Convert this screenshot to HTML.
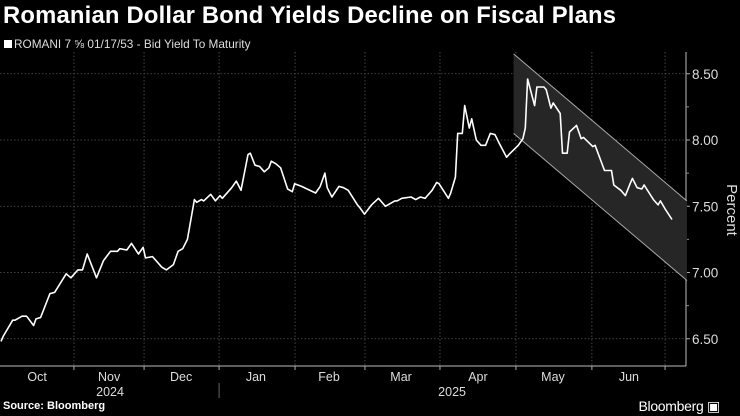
<!DOCTYPE html>
<html><head><meta charset="utf-8"><style>
html,body{margin:0;padding:0;background:#000;}
body{width:740px;height:416px;overflow:hidden;font-family:"Liberation Sans","DejaVu Sans",sans-serif;color:#fff;position:relative;}
#title{position:absolute;left:3px;top:2px;font-size:23.8px;font-weight:bold;letter-spacing:0.2px;white-space:nowrap;}
#legend{position:absolute;left:4px;top:37px;font-size:11.8px;color:#ddd;white-space:nowrap;}
#legend span.sw{display:inline-block;width:8px;height:8px;background:#fff;margin-right:2px;vertical-align:0px;}
#source{position:absolute;left:3px;top:400px;font-size:11px;font-weight:bold;}
#brand{position:absolute;right:20px;top:398px;font-size:14px;letter-spacing:-0.3px;}
svg{position:absolute;left:0;top:0;}
</style></head><body>
<div id="title">Romanian Dollar Bond Yields Decline on Fiscal Plans</div>
<div id="legend"><span class="sw"></span>ROMANI 7 ⅝ 01/17/53 - Bid Yield To Maturity</div>
<div id="source">Source: Bloomberg</div>
<div id="brand">Bloomberg ▣</div>
<svg id="chart" width="740" height="416"></svg>
<script>
const days=[0,1,5,6,9,11,14,15,17,21,23,28,30,33,35,37,41,44,47,50,51,54,56,59,61,62,65,69,71,74,76,78,80,83,84,86,87,90,92,94,95,99,101,103,106,107,109,111,113,115,116,118,120,123,125,126,129,135,137,139,140,142,145,147,149,153,154,156,159,162,165,169,170,172,176,178,180,182,183,185,187,188,192,193,195,196,198,199,201,202,204,206,208,210,212,214,217,218,222,224,225,226,229,230,233,234,236,237,240,241,243,244,247,249,250,254,255,259,262,263,266,268,270,271,273,275,276,280,282,283,285,288];
const yields=[6.48,6.52,6.64,6.64,6.67,6.67,6.60,6.65,6.66,6.84,6.85,6.99,6.96,7.02,7.02,7.14,6.96,7.09,7.16,7.16,7.18,7.17,7.22,7.14,7.19,7.11,7.12,7.04,7.02,7.06,7.16,7.18,7.25,7.55,7.53,7.55,7.54,7.59,7.54,7.58,7.56,7.64,7.69,7.62,7.89,7.90,7.81,7.80,7.76,7.79,7.84,7.82,7.79,7.63,7.61,7.67,7.65,7.60,7.65,7.75,7.64,7.57,7.65,7.64,7.62,7.51,7.49,7.44,7.51,7.56,7.50,7.54,7.54,7.56,7.57,7.55,7.57,7.56,7.58,7.62,7.68,7.67,7.56,7.60,7.72,8.05,8.05,8.26,8.09,8.16,8.00,7.96,7.96,8.05,8.04,7.97,7.87,7.89,7.96,8.01,8.09,8.46,8.26,8.40,8.40,8.38,8.24,8.28,8.20,7.90,7.90,8.06,8.11,8.01,8.02,7.95,7.96,7.77,7.77,7.66,7.62,7.58,7.67,7.71,7.64,7.63,7.66,7.55,7.51,7.54,7.48,7.40];
const channelDays=[220,294.4];
const channelTop=[8.65,7.54];
const channelBottom=[8.05,6.94];
const yTicks=[6.5,7.0,7.5,8.0,8.5];
const yTickLabels=["6.50","7.00","7.50","8.00","8.50"];
const minorTicks=[6.75,7.25,7.75,8.25];
const gridDays=[31.3,61.4,93.6,126.2,156.2,188.4,221,253.6,285];
const months=["Oct","Nov","Dec","Jan","Feb","Mar","Apr","May","Jun"];
const monthDays=[15.5,46.4,77.3,109.4,140.8,171.7,204.7,236.9,269.5];
const years=["2024","2025"];
const yearDays=[46.8,193.6];
const yearSepDays=[93.6];

const NS="http://www.w3.org/2000/svg";
const svg=document.getElementById('chart');
const X0=1,KX=2.33,AXR=686,AXB=366;
const x=d=>X0+d*KX;
const y=v=>140-(v-8)*132.5;
function mk(t,a){const e=document.createElementNS(NS,t);for(const k in a)e.setAttribute(k,a[k]);svg.appendChild(e);return e;}

yTicks.forEach((v,i)=>{
 const g=mk('line',{x1:0,x2:AXR,y1:y(v),y2:y(v),stroke:'#555','stroke-width':0.8,'stroke-dasharray':'1.5,2'});
 
 
 const t=mk('line',{x1:AXR,x2:AXR+4,y1:y(v),y2:y(v),stroke:'#aaa','stroke-width':1});
 
 
 const l=mk('text',{x:AXR+6,y:y(v)+5,fill:'#ddd','font-size':13.5});
 l.textContent=yTickLabels[i];
 
 
});
minorTicks.forEach(v=>{
 const t=mk('line',{x1:AXR,x2:AXR+3,y1:y(v),y2:y(v),stroke:'#888','stroke-width':1});
 
 
});
gridDays.forEach(d=>{
 const g=mk('line',{x1:x(d),x2:x(d),y1:52,y2:AXB,stroke:'#555','stroke-width':0.8,'stroke-dasharray':'1.5,2'});
 
 
 const t=mk('line',{x1:x(d),x2:x(d),y1:AXB,y2:AXB+4,stroke:'#aaa','stroke-width':1});
 
 
});
const ay=mk('line',{x1:AXR,x2:AXR,y1:52,y2:AXB,stroke:'#bbb','stroke-width':1});


const ax=mk('line',{x1:0,x2:AXR,y1:AXB,y2:AXB,stroke:'#bbb','stroke-width':1});


months.forEach((m,i)=>{
 const t=mk('text',{x:x(monthDays[i]),y:381,fill:'#ddd','font-size':12.5,'text-anchor':'middle'});
 t.textContent=m;
 
 
});
years.forEach((m,i)=>{
 const t=mk('text',{x:x(yearDays[i]),y:396,fill:'#ddd','font-size':12.5,'text-anchor':'middle'});
 t.textContent=m;
 
 
});
yearSepDays.forEach(d=>{
 const s=mk('line',{x1:x(d),x2:x(d),y1:383,y2:398,stroke:'#666','stroke-width':1});
 
 
});
const pt=mk('text',{x:0,y:0,fill:'#ddd','font-size':15,'text-anchor':'middle',transform:'translate(727,210) rotate(90)'});
pt.textContent='Percent';



const c0=x(channelDays[0]),c1=x(channelDays[1]);
const ch=mk('polygon',{points:`${c0},${y(channelTop[0])} ${c1},${y(channelTop[1])} ${c1},${y(channelBottom[1])} ${c0},${y(channelBottom[0])}`,fill:'#262626'});


const ct=mk('line',{x1:c0,y1:y(channelTop[0]),x2:c1,y2:y(channelTop[1]),stroke:'#aaa','stroke-width':1});


const cb=mk('line',{x1:c0,y1:y(channelBottom[0]),x2:c1,y2:y(channelBottom[1]),stroke:'#aaa','stroke-width':1});



const pts=days.map((d,i)=>x(d).toFixed(1)+','+y(yields[i]).toFixed(1)).join(' ');
const line=mk('polyline',{points:pts,fill:'none',stroke:'#fff','stroke-width':1.6,'stroke-linejoin':'round'});


</script>
</body></html>
